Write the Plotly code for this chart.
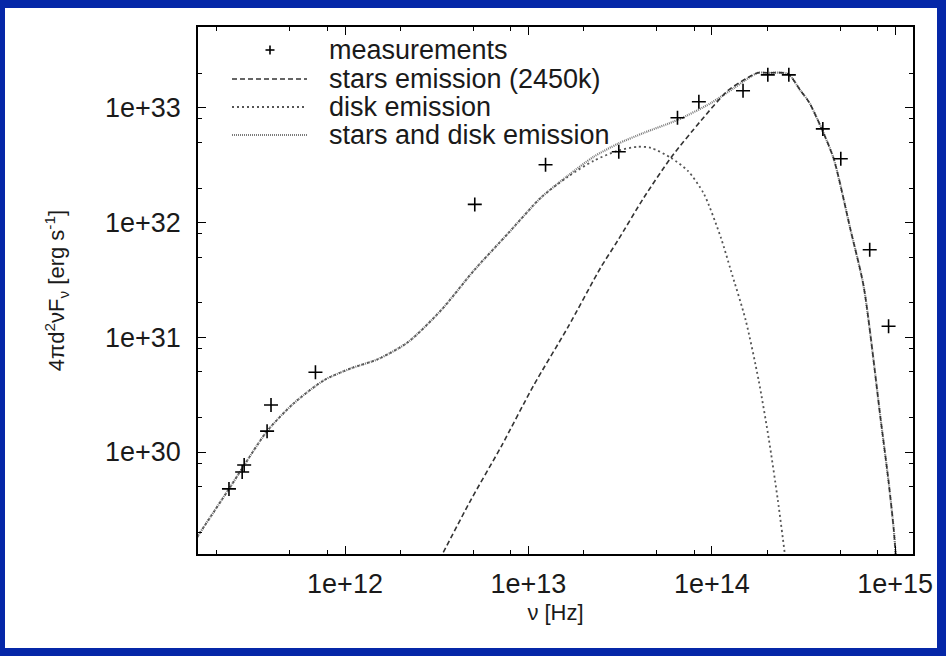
import plotly.graph_objects as go

# ---------------- data ----------------
meas_nu = [2.33e11, 2.75e11, 2.82e11, 3.76e11, 3.95e11, 6.9e11, 5.1e12, 1.24e13, 3.11e13,
           6.5e13, 8.5e13, 1.48e14, 2.02e14, 2.63e14, 4.03e14, 5.05e14, 7.26e14, 9.2e14]
meas_L = [4.77e29, 6.7e29, 7.7e29, 1.52e30, 2.57e30, 4.96e30, 1.44e32, 3.19e32, 4.14e32,
          8.2e32, 1.13e33, 1.41e33, 1.94e33, 1.94e33, 6.56e32, 3.6e32, 5.8e31, 1.25e31]

stars_nu = [3.13e12, 4.86e12, 7.08e12, 1.07e13, 1.64e13, 2.48e13, 3.07e13, 4.26e13, 5.98e13,
            8.71e13, 1.22e14, 1.53e14, 1.78e14, 2.02e14, 2.60e14, 3.05e14, 3.38e14, 3.93e14,
            4.62e14, 5.72e14, 6.73e14, 8.34e14, 9.22e14, 9.82e14, 1.02e15]
stars_L = [1.0e29, 3.83e29, 1.105e30, 3.83e30, 1.22e31, 4.06e31, 6.97e31, 1.65e32, 3.67e32,
           7.71e32, 1.41e33, 1.79e33, 2.02e33, 2.02e33, 1.98e33, 1.41e33, 1.13e33, 6.84e32,
           3.60e32, 8.51e31, 2.78e31, 1.90e30, 5.37e29, 2.10e29, 9.4e28]

disk_nu = [1.561e11, 1.62e11, 2.33e11, 3.76e11, 5.27e11, 7.69e11, 1.08e12, 1.51e12, 2.20e12,
           3.34e12, 5.05e12, 7.73e12, 1.17e13, 1.64e13, 2.27e13, 3.07e13, 3.95e13, 4.65e13,
           5.98e13, 7.40e13, 9.04e13, 1.12e14, 1.27e14, 1.53e14, 1.80e14, 2.05e14, 2.29e14,
           2.50e14, 2.60e14]
disk_L = [1.81e29, 1.98e29, 4.77e29, 1.52e30, 2.67e30, 4.23e30, 5.37e30, 6.44e30, 9.05e30,
          1.72e31, 3.83e31, 8.02e31, 1.65e32, 2.51e32, 3.46e32, 4.23e32, 4.58e32, 4.49e32,
          3.67e32, 2.83e32, 1.79e32, 7.41e31, 3.83e31, 1.41e31, 4.23e30, 1.27e30, 3.83e29,
          1.30e29, 7.7e28]

total_nu = [1.561e11, 1.62e11, 2.33e11, 3.76e11, 5.27e11, 7.69e11, 1.08e12, 1.51e12, 2.20e12,
            3.34e12, 5.05e12, 7.73e12, 1.17e13, 1.64e13, 2.27e13, 3.07e13, 4.26e13, 6.53e13,
            9.88e13, 1.32e14, 1.78e14, 2.02e14, 2.60e14, 3.05e14, 3.38e14, 3.93e14, 4.62e14,
            5.72e14, 6.73e14, 8.34e14, 9.22e14, 9.82e14, 1.02e15]
total_L = [1.81e29, 1.98e29, 4.77e29, 1.52e30, 2.67e30, 4.23e30, 5.37e30, 6.44e30, 9.05e30,
           1.72e31, 3.83e31, 8.02e31, 1.65e32, 2.56e32, 3.75e32, 4.86e32, 6.06e32, 7.87e32,
           1.10e33, 1.49e33, 2.02e33, 2.02e33, 1.98e33, 1.41e33, 1.13e33, 6.84e32, 3.60e32,
           8.51e31, 2.78e31, 1.90e30, 5.37e29, 2.10e29, 9.4e28]

x_tickvals = [1e12, 1e13, 1e14, 1e15]
x_ticktext = ["1e+12", "1e+13", "1e+14", "1e+15"]
y_tickvals = [1e30, 1e31, 1e32, 1e33]
y_ticktext = ["1e+30", "1e+31", "1e+32", "1e+33"]
x_minor = [m * 10.0 ** e for e in range(11, 16) for m in (2, 5, 8)]
y_minor = [m * 10.0 ** e for e in range(29, 34) for m in (2, 5, 8)]

legend_labels = ["measurements", "stars emission (2450k)", "disk emission",
                 "stars and disk emission"]

# ---------------- styles ----------------
FONT = "Liberation Sans, Arial, Helvetica, sans-serif"
BLUE = "#0527a8"
TXT = "#1a1a1a"
styles = {
    "stars": dict(color="#333333", width=1.6, dash="5px,3px"),
    "disk": dict(color="#555555", width=1.8, dash="2px,3px"),
    "total": dict(color="#7a7a7a", width=2.2, dash="1px,1px"),
}

fig = go.Figure()
fig.add_trace(go.Scatter(x=total_nu, y=total_L, mode="lines", name=legend_labels[3],
                         line=dict(shape="spline", smoothing=0.7, **styles["total"]),
                         showlegend=False))
fig.add_trace(go.Scatter(x=disk_nu, y=disk_L, mode="lines", name=legend_labels[2],
                         line=dict(shape="spline", smoothing=0.7, **styles["disk"]),
                         showlegend=False))
fig.add_trace(go.Scatter(x=stars_nu, y=stars_L, mode="lines", name=legend_labels[1],
                         line=dict(shape="spline", smoothing=0.7, **styles["stars"]),
                         showlegend=False))
fig.add_trace(go.Scatter(x=meas_nu, y=meas_L, mode="markers", name=legend_labels[0],
                         marker=dict(symbol="cross-thin", size=10,
                                     line=dict(color="black", width=1.6)),
                         showlegend=False))

# ---------------- geometry of the page ----------------
W, H = 946, 656
L, R, T, B = 198, 913, 27, 554
pw, ph = R - L, B - T


def px(x):
    return (x - L) / pw


def py(y):
    return (B - y) / ph


shapes = []
# white card on the blue page
shapes.append(dict(type="rect", xref="paper", yref="paper", layer="below",
                   x0=px(5), x1=px(937), y0=py(648), y1=py(8),
                   fillcolor="white", line=dict(width=0)))

# manual key (gnuplot style)
key_rows = [50, 79, 107, 135]
sx0, sx1, tx = 232, 307, 327
annotations = []
for lab, yr in zip(legend_labels, key_rows):
    annotations.append(dict(xref="paper", yref="paper", x=px(tx), y=py(yr),
                            xanchor="left", yanchor="middle", text=lab, showarrow=False,
                            font=dict(family=FONT, size=27, color=TXT)))
# "+" sample
cx, cy, hs = 270, key_rows[0], 4.5
shapes.append(dict(type="line", xref="paper", yref="paper", x0=px(cx - hs), x1=px(cx + hs),
                   y0=py(cy), y1=py(cy), line=dict(color="black", width=1.6)))
shapes.append(dict(type="line", xref="paper", yref="paper", x0=px(cx), x1=px(cx),
                   y0=py(cy - hs), y1=py(cy + hs), line=dict(color="black", width=1.6)))
for key, yr in zip(["stars", "disk", "total"], key_rows[1:]):
    shapes.append(dict(type="line", xref="paper", yref="paper", x0=px(sx0), x1=px(sx1),
                       y0=py(yr), y1=py(yr), line=styles[key]))

axis_common = dict(
    type="log", showgrid=False, zeroline=False, showline=True, linecolor="black",
    linewidth=1.5, mirror="ticks", ticks="inside", ticklen=8, tickwidth=1.3,
    tickcolor="black", tickfont=dict(family=FONT, size=27, color=TXT),
)

fig.update_layout(
    width=W, height=H,
    margin=dict(l=L, r=W - R, t=T, b=H - B, pad=0),
    paper_bgcolor=BLUE, plot_bgcolor="white",
    showlegend=False,
    shapes=shapes, annotations=annotations,
    xaxis=dict(**axis_common, range=[11.1985, 15.097], tickmode="array",
               tickvals=x_tickvals, ticktext=x_ticktext, ticklabelstandoff=5,
               minor=dict(tickmode="array", tickvals=x_minor, ticks="inside", ticklen=4,
                          tickwidth=1.2, tickcolor="black", showgrid=False),
               title=dict(text="ν [Hz]", standoff=6,
                          font=dict(family=FONT, size=22, color=TXT))),
    yaxis=dict(**axis_common, range=[29.111, 33.705], tickmode="array",
               tickvals=y_tickvals, ticktext=y_ticktext, ticklabelstandoff=10,
               minor=dict(tickmode="array", tickvals=y_minor, ticks="inside", ticklen=4,
                          tickwidth=1.2, tickcolor="black", showgrid=False),
               title=dict(text="4πd<sup>2</sup>νF<sub>ν</sub> [erg s<sup>-1</sup>]",
                          standoff=34, font=dict(family=FONT, size=22, color=TXT))),
)

fig.write_html("out.html")
